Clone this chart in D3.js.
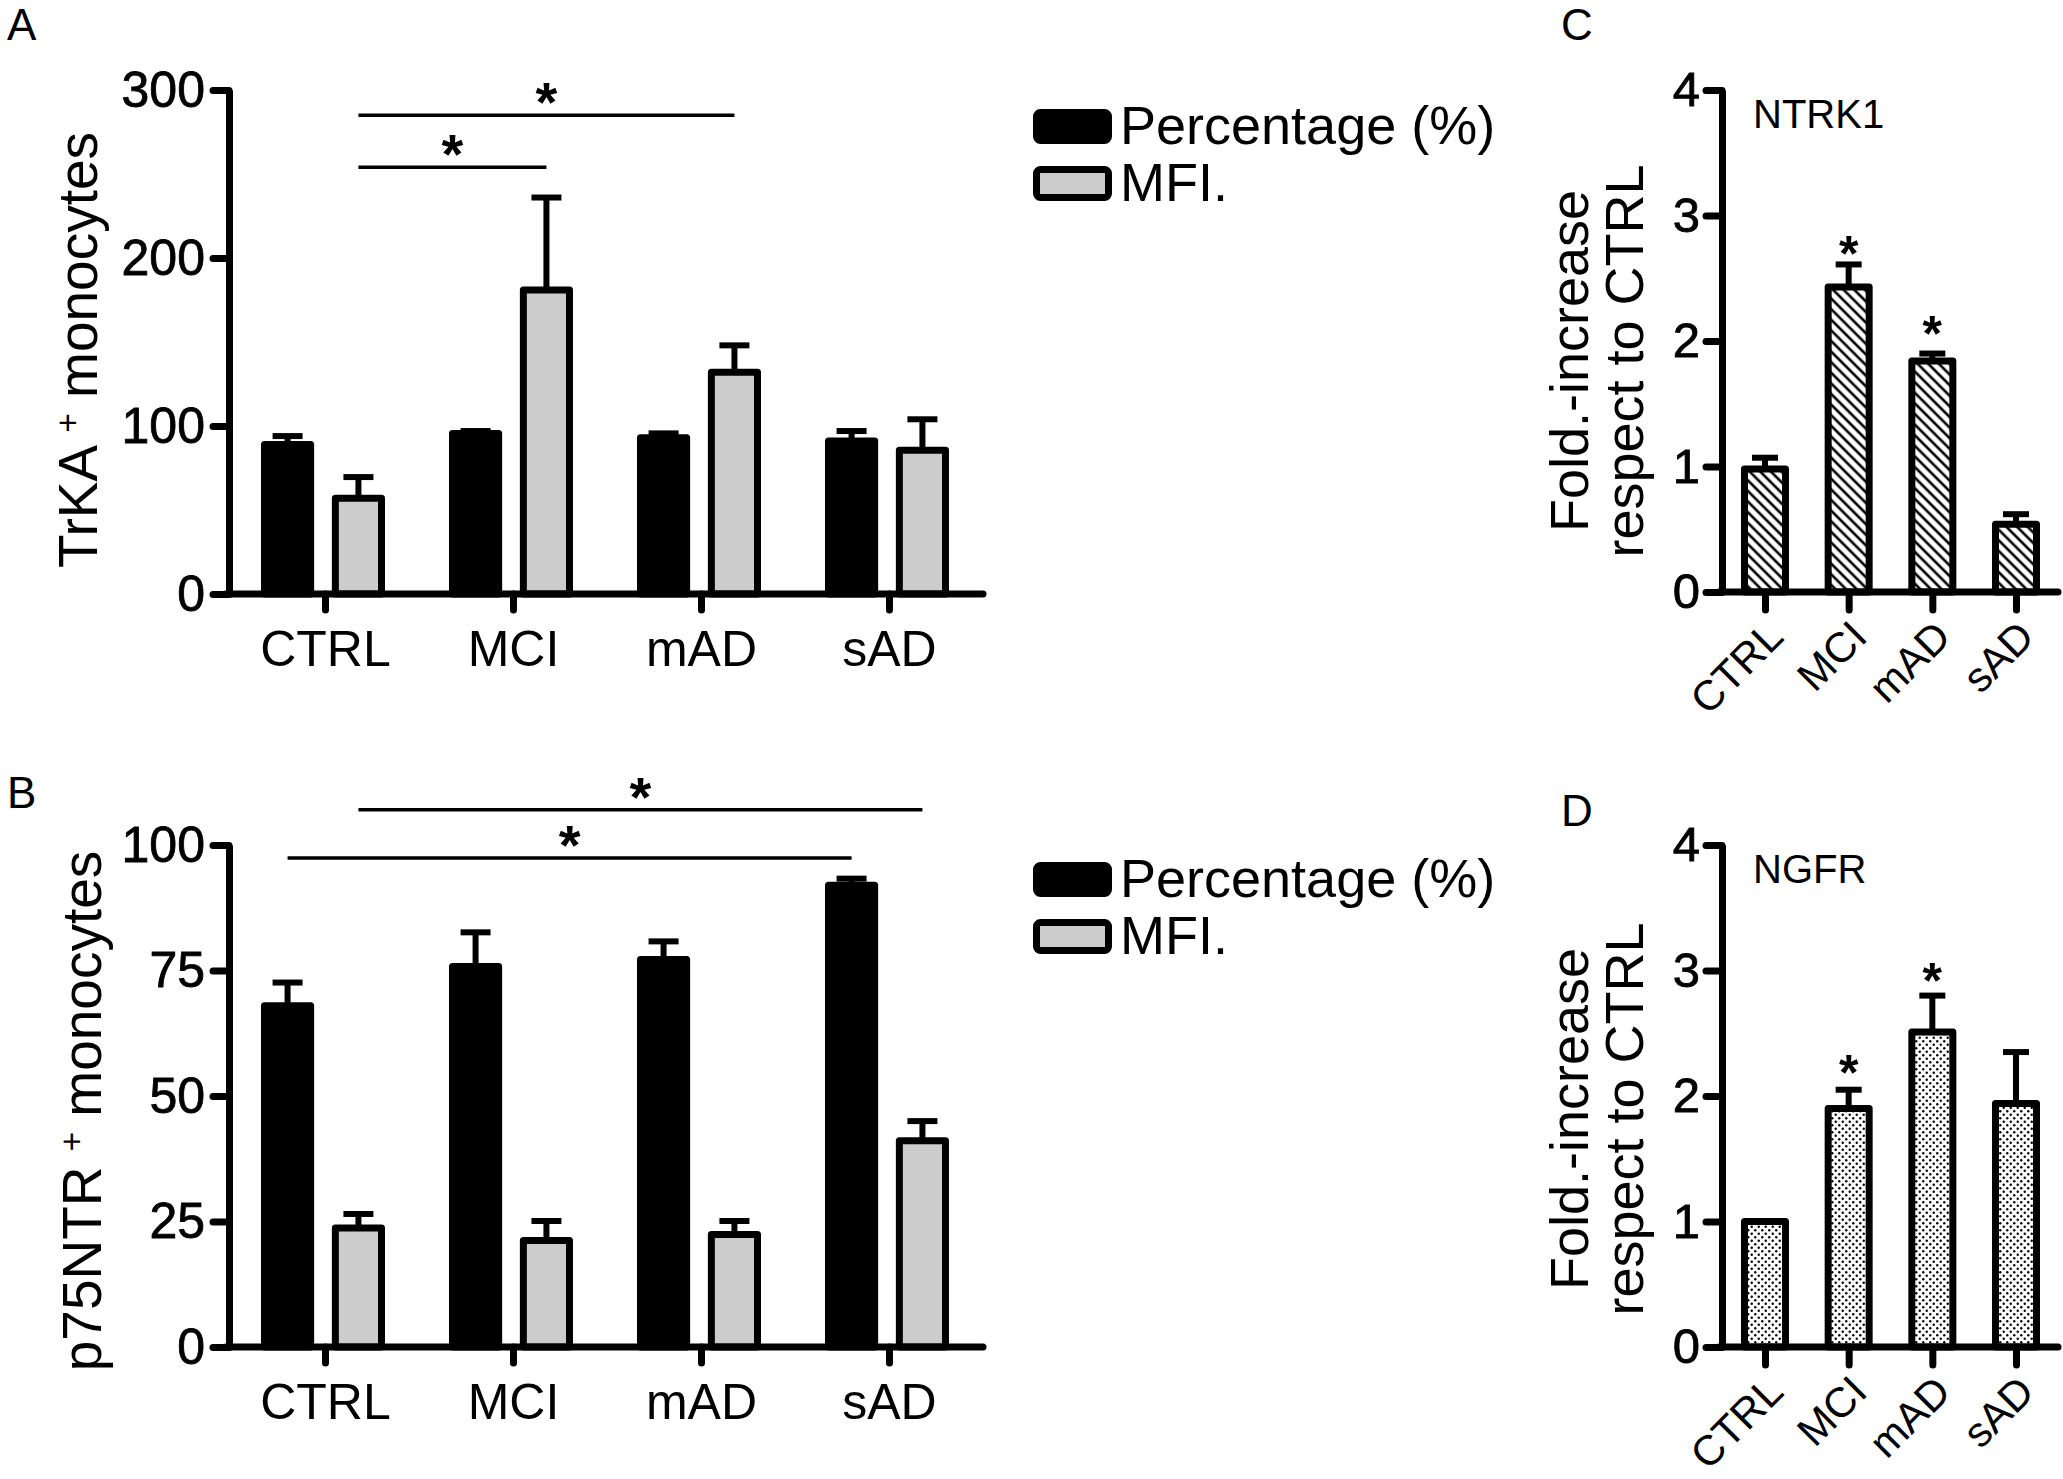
<!DOCTYPE html>
<html><head><meta charset="utf-8">
<script src="https://cdn.jsdelivr.net/npm/d3@7"></script>
<style>
body{margin:0;background:#fff}
text{font-family:"Liberation Sans",Arial,Helvetica,sans-serif;fill:#000}
</style>
</head><body>
<svg id="chart" width="2063" height="1479" xmlns="http://www.w3.org/2000/svg"></svg>
<script>
// ---------- DATA ----------
const categories = ["CTRL", "MCI", "mAD", "sAD"];
const seriesNames = ["Percentage (%)", "MFI."];

// Panel A: TrKA+ monocytes
const trkaPct    = [89, 95.5, 93, 91];
const trkaPctErr = [94, 97, 95.6, 97];
const trkaMfi    = [57, 181, 132, 85.5];
const trkaMfiErr = [69.6, 236, 148, 104];
const trkaTicks  = [0, 100, 200, 300];
const trkaSig = [
  {from: "CTRL", fromS: 1, to: "mAD", toS: 1, value: 285},
  {from: "CTRL", fromS: 1, to: "MCI", toS: 1, value: 254}
];

// Panel B: p75NTR+ monocytes
const p75Pct    = [68, 75.8, 77.2, 92];
const p75PctErr = [72.6, 82.6, 80.8, 93.3];
const p75Mfi    = [23.7, 21.2, 22.4, 41.1];
const p75MfiErr = [26.5, 25.1, 25.1, 45];
const p75Ticks  = [0, 25, 50, 75, 100];
const p75Sig = [
  {from: "CTRL", fromS: 1, to: "sAD", toS: 1, value: 107},
  {from: "CTRL", fromS: 0, to: "sAD", toS: 0, value: 97.4}
];

// Panel C: NTRK1
const ntrk1     = [0.98, 2.43, 1.84, 0.54];
const ntrk1Err  = [1.07, 2.61, 1.90, 0.62];
const ntrk1Star = [null, 2.75, 2.11, null];

// Panel D: NGFR
const ngfr     = [1.0, 1.9, 2.51, 1.94];
const ngfrErr  = [1.0, 2.05, 2.8, 2.35];
const ngfrStar = [null, 2.24, 2.97, null];

const foldTicks = [0, 1, 2, 3, 4];

// ---------- DRAW ----------
const svg = d3.select("#chart");
const FONT = '"Liberation Sans",Arial,Helvetica,sans-serif';
const LW = 7;

const defs = svg.append("defs");
const hatch = defs.append("pattern").attr("id", "hatch")
  .attr("patternUnits", "userSpaceOnUse").attr("width", 7.5).attr("height", 7.5)
  .attr("patternTransform", "rotate(-45)");
hatch.append("rect").attr("width", 7.5).attr("height", 7.5).attr("fill", "#fff");
hatch.append("line").attr("x1", 3.75).attr("x2", 3.75).attr("y1", -1).attr("y2", 9)
  .attr("stroke", "#000").attr("stroke-width", 2.6);
const dots = defs.append("pattern").attr("id", "dots")
  .attr("patternUnits", "userSpaceOnUse").attr("width", 7).attr("height", 7);
dots.append("rect").attr("width", 7).attr("height", 7).attr("fill", "#fff");
dots.append("circle").attr("cx", 1.75).attr("cy", 1.75).attr("r", 1.2).attr("fill", "#000");
dots.append("circle").attr("cx", 5.25).attr("cy", 5.25).attr("r", 1.2).attr("fill", "#000");

function star(g, cx, cy, size) {
  g.append("text").attr("x", cx).attr("y", cy + size * 0.48)
    .attr("text-anchor", "middle").attr("font-weight", "bold")
    .attr("font-size", size).text("*");
}

function styleAxis(g) {
  g.selectAll("path.domain").attr("stroke", "#000").attr("stroke-width", LW).attr("fill", "none");
  g.selectAll(".tick line").attr("stroke", "#000").attr("stroke-width", LW).attr("stroke-linecap", "round");
  g.selectAll("text").attr("font-family", FONT).attr("fill", "#000");
}

function groupedPanel(o) {
  const g = svg.append("g");
  const y = d3.scaleLinear().domain([0, o.max]).range([o.yBot, o.yTop]);
  const x = d3.scalePoint().domain(categories).range([325, 889]);
  const sub = d3.scaleBand().domain([0, 1]).range([-64, 60]).paddingInner(0.25);
  const bw = sub.bandwidth();
  const center = (c, s) => x(c) + sub(s) + bw / 2;

  const series = [
    {vals: o.pct, errs: o.pctErr, fill: "#000"},
    {vals: o.mfi, errs: o.mfiErr, fill: "#cccccc"}
  ];
  series.forEach((s, si) => {
    g.selectAll(null).data(categories).enter().append("line")
      .attr("x1", (c) => center(c, si)).attr("x2", (c) => center(c, si))
      .attr("y1", (c, i) => y(s.vals[i])).attr("y2", (c, i) => y(s.errs[i]))
      .attr("stroke", "#000").attr("stroke-width", 6);
    g.selectAll(null).data(categories).enter().append("line")
      .attr("x1", (c) => center(c, si) - 15).attr("x2", (c) => center(c, si) + 15)
      .attr("y1", (c, i) => y(s.errs[i])).attr("y2", (c, i) => y(s.errs[i]))
      .attr("stroke", "#000").attr("stroke-width", 6);
    g.selectAll(null).data(categories).enter().append("rect")
      .attr("x", (c) => x(c) + sub(si) + LW / 2)
      .attr("width", bw - LW)
      .attr("y", (c, i) => y(s.vals[i]))
      .attr("height", (c, i) => y(0) - y(s.vals[i]))
      .attr("fill", s.fill).attr("stroke", "#000").attr("stroke-width", LW)
      .attr("stroke-linejoin", "round");
  });

  const ya = g.append("g").attr("transform", `translate(${o.xAxis},0)`)
    .call(d3.axisLeft(y).tickValues(o.ticks).tickSize(16).tickSizeOuter(0).tickPadding(8).tickFormat(d3.format("d")));
  styleAxis(ya);
  ya.selectAll("text").attr("font-size", 50).attr("stroke", "#000").attr("stroke-width", 0.8);
  g.append("line").attr("x1", o.xAxis - 3).attr("x2", 983).attr("y1", o.yBot).attr("y2", o.yBot)
    .attr("stroke", "#000").attr("stroke-width", LW).attr("stroke-linecap", "round");
  const xa = g.append("g").attr("transform", `translate(0,${o.yBot})`)
    .call(d3.axisBottom(x).tickSize(16).tickPadding(20));
  xa.select("path.domain").remove();
  styleAxis(xa);
  xa.selectAll("text").attr("font-size", 50);

  o.sig.forEach(s => {
    const x1 = center(s.from, s.fromS), x2 = center(s.to, s.toS);
    g.append("line").attr("x1", x1).attr("x2", x2).attr("y1", y(s.value)).attr("y2", y(s.value))
      .attr("stroke", "#000").attr("stroke-width", 3.5);
    star(g, (x1 + x2) / 2, y(s.value) - 21, 56);
  });

  const t = g.append("text").attr("transform", `translate(${o.titleX},${o.titleY}) rotate(-90)`)
    .attr("text-anchor", "middle").attr("font-size", 55);
  t.append("tspan").text(o.title[0] + " ");
  t.append("tspan").attr("font-size", 33).attr("baseline-shift", "super").text("+");
  t.append("tspan").text(" " + o.title[1]);

  g.append("text").attr("x", 7).attr("y", o.letterY).attr("font-size", 44).text(o.letter);

  series.forEach((s, i) => {
    const top = o.legendY + i * 57;
    g.append("rect").attr("x", 1036.5).attr("y", top + 3.5).attr("width", 72).attr("height", 28)
      .attr("rx", 4).attr("fill", s.fill).attr("stroke", "#000").attr("stroke-width", LW);
    g.append("text").attr("x", 1120).attr("y", top + 35).attr("font-size", 54).text(seriesNames[i]);
  });
}

groupedPanel({max: 300, yTop: 90, yBot: 594, xAxis: 229, ticks: trkaTicks,
  pct: trkaPct, pctErr: trkaPctErr, mfi: trkaMfi, mfiErr: trkaMfiErr, sig: trkaSig,
  title: ["TrKA", "monocytes"], titleX: 97, titleY: 350, letter: "A", letterY: 40, legendY: 109});
groupedPanel({max: 100, yTop: 845, yBot: 1347, xAxis: 229, ticks: p75Ticks,
  pct: p75Pct, pctErr: p75PctErr, mfi: p75Mfi, mfiErr: p75MfiErr, sig: p75Sig,
  title: ["p75NTR", "monocytes"], titleX: 101, titleY: 1111, letter: "B", letterY: 808, legendY: 862});

function foldPanel(o) {
  const g = svg.append("g");
  const y = d3.scaleLinear().domain([0, 4]).range([o.yBot, o.yTop]);
  const x = d3.scalePoint().domain(categories).range([1765, 2016]);
  const bw = 48;
  g.selectAll(null).data(categories).enter().append("line")
    .attr("x1", c => x(c)).attr("x2", c => x(c))
    .attr("y1", (c, i) => y(o.vals[i])).attr("y2", (c, i) => y(o.errs[i]))
    .attr("stroke", "#000").attr("stroke-width", 6);
  g.selectAll(null).data(categories.filter((c, i) => o.errs[i] > o.vals[i])).enter().append("line")
    .attr("x1", c => x(c) - 13).attr("x2", c => x(c) + 13)
    .attr("y1", c => y(o.errs[categories.indexOf(c)])).attr("y2", c => y(o.errs[categories.indexOf(c)]))
    .attr("stroke", "#000").attr("stroke-width", 6);
  g.selectAll(null).data(categories).enter().append("rect")
    .attr("x", c => x(c) - bw / 2 + LW / 2).attr("width", bw - LW)
    .attr("y", (c, i) => y(o.vals[i])).attr("height", (c, i) => y(0) - y(o.vals[i]))
    .attr("fill", `url(#${o.pattern})`).attr("stroke", "#000").attr("stroke-width", LW)
    .attr("stroke-linejoin", "round");

  const ya = g.append("g").attr("transform", `translate(1722,0)`)
    .call(d3.axisLeft(y).tickValues(foldTicks).tickSize(16).tickSizeOuter(0).tickPadding(6).tickFormat(d3.format("d")));
  styleAxis(ya);
  ya.selectAll("text").attr("font-size", 49).attr("stroke", "#000").attr("stroke-width", 0.8);
  g.append("line").attr("x1", 1719).attr("x2", 2058).attr("y1", o.yBot).attr("y2", o.yBot)
    .attr("stroke", "#000").attr("stroke-width", LW).attr("stroke-linecap", "round");
  const xa = g.append("g").attr("transform", `translate(0,${o.yBot})`)
    .call(d3.axisBottom(x).tickSize(18));
  xa.select("path.domain").remove();
  styleAxis(xa);
  xa.selectAll("text").attr("font-size", 42).attr("y", 0).attr("dy", null)
    .attr("text-anchor", "end").attr("transform", "translate(20,47) rotate(-45)");

  o.stars.forEach((s, i) => { if (s !== null) star(g, x(categories[i]), y(s), 50); });

  g.append("text").attr("x", 1753).attr("y", o.yTop + 38).attr("font-size", 40).text(o.name);
  g.append("text").attr("transform", `translate(1588,${o.titleY}) rotate(-90)`)
    .attr("text-anchor", "middle").attr("font-size", 54).text("Fold.-increase");
  g.append("text").attr("transform", `translate(1643,${o.titleY}) rotate(-90)`)
    .attr("text-anchor", "middle").attr("font-size", 54).text("respect to CTRL");
  g.append("text").attr("x", 1561).attr("y", o.letterY).attr("font-size", 44).text(o.letter);
}

foldPanel({yTop: 90, yBot: 592, vals: ntrk1, errs: ntrk1Err, stars: ntrk1Star, pattern: "hatch",
  name: "NTRK1", titleY: 361, letter: "C", letterY: 40});
foldPanel({yTop: 845, yBot: 1347, vals: ngfr, errs: ngfrErr, stars: ngfrStar, pattern: "dots",
  name: "NGFR", titleY: 1119, letter: "D", letterY: 826});
</script>
</body></html>
